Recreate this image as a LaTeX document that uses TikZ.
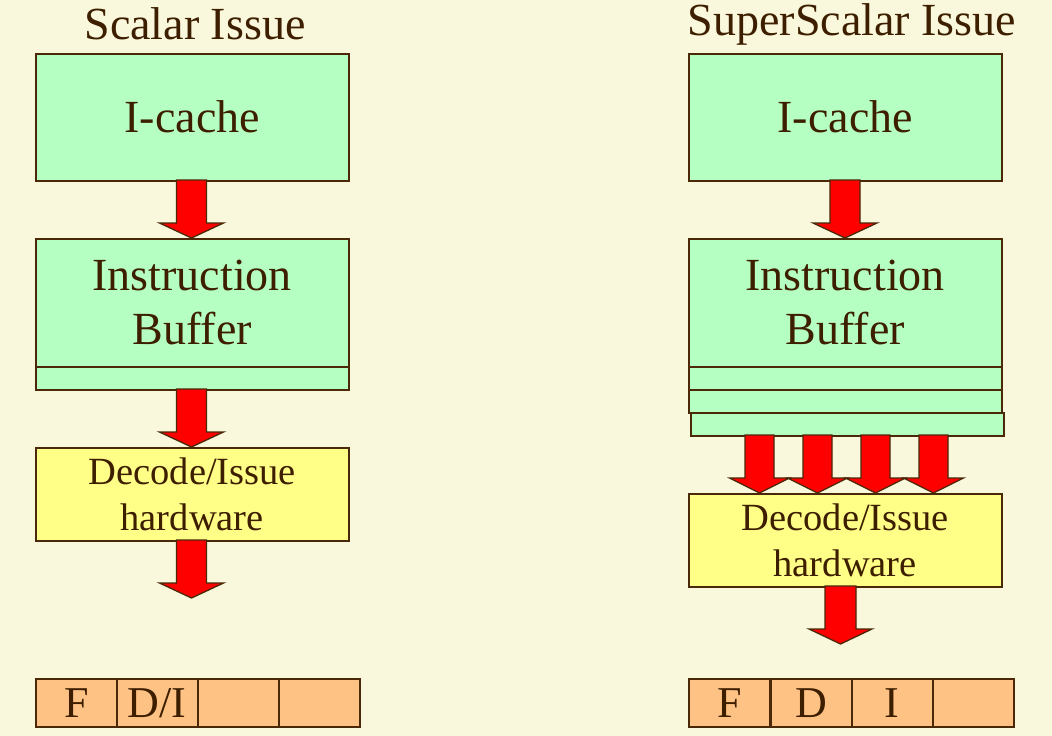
\documentclass[tikz,border=0pt]{standalone}
\usepackage{fontspec}
\setmainfont{Liberation Serif}
\definecolor{bg}{HTML}{FAF8DC}
\definecolor{grn}{HTML}{B6FFC2}
\definecolor{ylw}{HTML}{FFFF88}
\definecolor{org}{HTML}{FFC285}
\definecolor{brd}{HTML}{4A2808}
\definecolor{txt}{HTML}{3D1F00}
\definecolor{arr}{HTML}{FF0000}
\tikzset{
  box/.style={draw=brd, line width=1.5pt, inner sep=0pt, anchor=north west, text=txt, align=center},
  gbox/.style={box, fill=grn},
  ybox/.style={box, fill=ylw, font=\fontsize{38.5}{46}\selectfont},
  cell/.style={box, fill=org, minimum width=81pt, minimum height=48pt, font=\fontsize{44}{46}\selectfont},
  title/.style={text=txt, font=\fontsize{46}{48}\selectfont},
  big/.style={font=\fontsize{46}{54}\selectfont},
  blk/.style={fill=arr, draw=brd, line width=1.3pt, line join=miter}
}
% block arrow: center x, top y, head y, tip y, half shaft, half head
\newcommand\barrow[6]{%
  \draw[blk] (#1-#5,#2) -- (#1+#5,#2) -- (#1+#5,#3) -- (#1+#6,#3) -- (#1,#4) -- (#1-#6,#3) -- (#1-#5,#3) -- cycle;}
\begin{document}
\begin{tikzpicture}[x=1pt,y=-1pt]
\fill[bg] (0,0) rectangle (1052,736);
\useasboundingbox (0,0) rectangle (1052,736);
% ---------- Scalar ----------
\node[title] (t1) at (195,24) {Scalar Issue};
\node[gbox, big, minimum width=313pt, minimum height=127pt] (ic1) at (35,53) {I-cache};
\node[gbox, big, minimum width=313pt, minimum height=128pt] (ib1) at (35,238) {Instruction\\Buffer};
\node[gbox, minimum width=313pt, minimum height=23pt] (s1) at (35,366) {};
\node[ybox, minimum width=313pt, minimum height=93pt] (dc1) at (35,447) {Decode/Issue\\hardware};
\barrow{191.5}{180}{223}{238}{15}{32}
\barrow{191.5}{389}{432}{447}{15}{32}
\barrow{191.5}{540}{583}{598}{15}{32}
\node[cell] (p1a) at (35,678) {F};
\node[cell] (p1b) at (116,678) {D/I};
\node[cell] (p1c) at (197,678) {};
\node[cell] (p1d) at (278,678) {};
% ---------- SuperScalar ----------
\node[title] (t2) at (852,24) {SuperScalar Issue};
\node[gbox, big, minimum width=313pt, minimum height=127pt] (ic2) at (688,53) {I-cache};
\node[gbox, big, minimum width=313pt, minimum height=128pt] (ib2) at (688,238) {Instruction\\Buffer};
\node[gbox, minimum width=313pt, minimum height=23pt] (s2a) at (688,366) {};
\node[gbox, minimum width=313pt, minimum height=23pt] (s2b) at (688,389) {};
\node[gbox, minimum width=313pt, minimum height=23pt] (s2c) at (690,412) {};
\node[ybox, minimum width=313pt, minimum height=93pt] (dc2) at (688,493) {Decode/Issue\\hardware};
\barrow{845}{180}{223}{238}{15}{32}
\barrow{759.5}{435}{478}{493}{14.5}{30}
\barrow{817.5}{435}{478}{493}{14.5}{30}
\barrow{875.5}{435}{478}{493}{14.5}{30}
\barrow{933.5}{435}{478}{493}{14.5}{30}
\barrow{840.5}{586}{629}{644}{15.5}{31.5}
\node[cell] (p2a) at (688,678) {F};
\node[cell] (p2b) at (770,678) {D};
\node[cell] (p2c) at (851,678) {I};
\node[cell] (p2d) at (932,678) {};
\end{tikzpicture}
\end{document}
